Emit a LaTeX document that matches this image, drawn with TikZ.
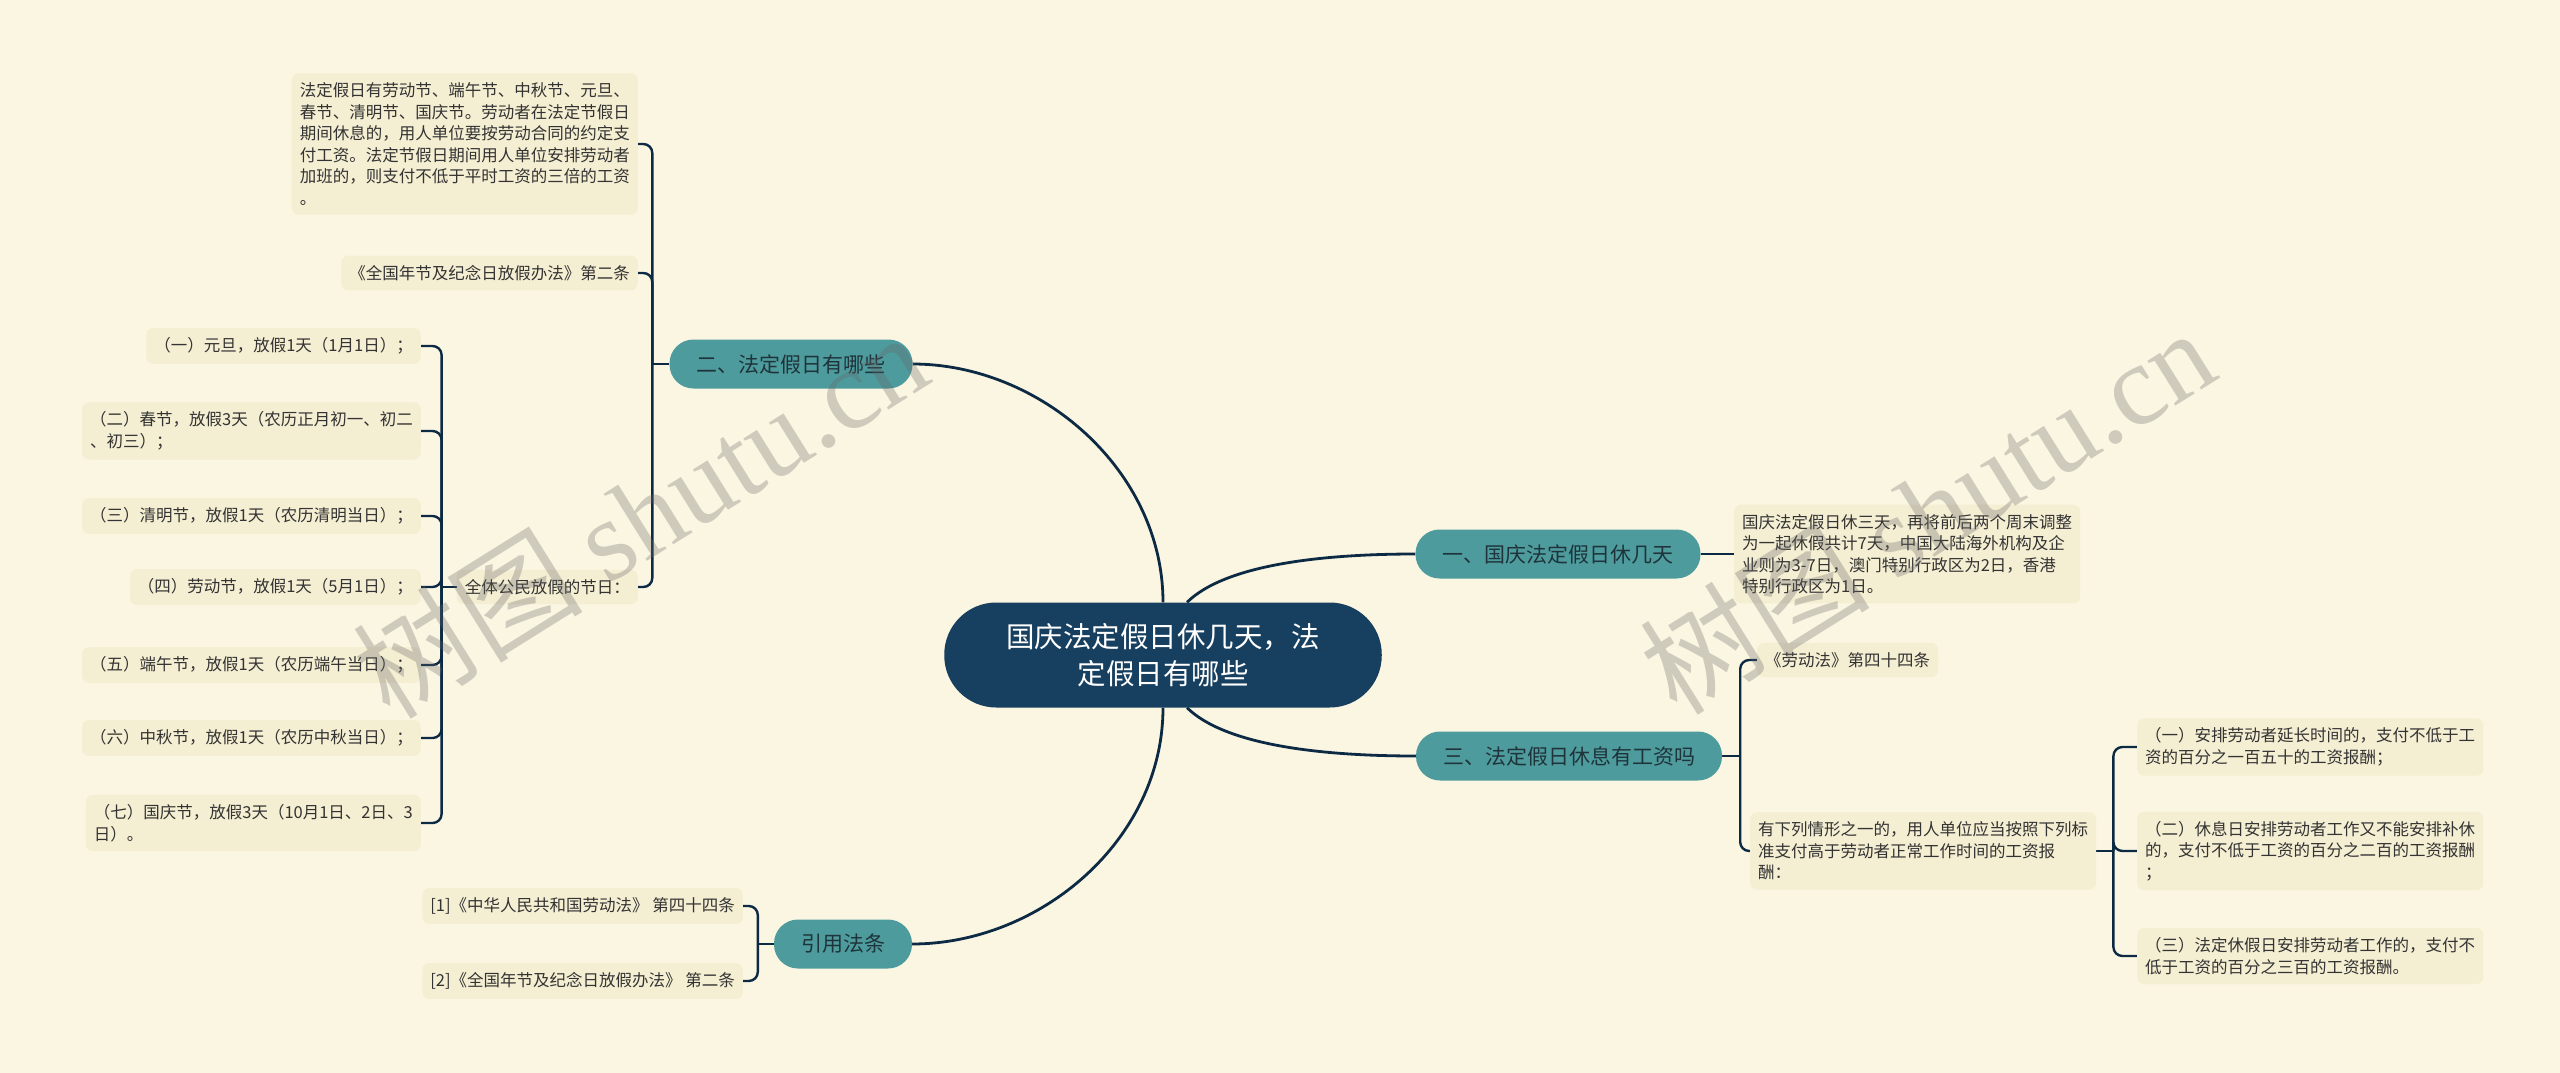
\documentclass[tikz,border=0pt]{standalone}
\usepackage{fontspec}
\setmainfont{Noto Sans CJK SC}
\newfontfamily\wmlatin{Liberation Serif}
\definecolor{bgc}{HTML}{FBF6E2}
\definecolor{leaff}{HTML}{F4EED2}
\definecolor{tealc}{HTML}{4E9B9E}
\definecolor{rootc}{HTML}{173F5F}
\definecolor{linec}{HTML}{0D2A45}
\definecolor{txtc}{HTML}{333333}
\definecolor{pilltxt}{HTML}{1E343A}
\pgfdeclarelayer{bglayer}
\pgfdeclarelayer{linelayer}
\pgfsetlayers{bglayer,linelayer,main}
\tikzset{
  leaf/.style={fill=leaff, rounded corners=7pt, inner xsep=8pt, inner ysep=9.5pt, align=left, text=txtc, font=\fontsize{16.5}{21.5}\selectfont},
  pill/.style={fill=tealc, rounded corners=24pt, minimum height=49pt, inner xsep=27pt, inner ysep=0pt, text=pilltxt, font=\fontsize{21}{25}\selectfont},
  rootbox/.style={fill=rootc, rounded corners=52pt, minimum height=105pt, inner xsep=62pt, text=white, align=center, font=\fontsize{28.5}{37}\selectfont},
  conn/.style={draw=linec, line width=2.4pt, rounded corners=9pt},
  mainconn/.style={draw=linec, line width=2.8pt},
  wm/.style={text=black!60, opacity=0.3, rotate=32, font=\fontsize{115}{120}\selectfont}
}
\begin{document}
\begin{tikzpicture}[x=1pt,y=-1pt]
\useasboundingbox (0,0) rectangle (2560,1073);
\begin{pgfonlayer}{bglayer}
\fill[bgc] (0,0) rectangle (2560,1073);
\end{pgfonlayer}

% root
\node[rootbox] (root) at (1163,655) {国庆法定假日休几天，法\\定假日有哪些};

% branches
\node[pill] (b2) at (791,364) {二、法定假日有哪些};
\node[pill] (b1) at (1558,554) {一、国庆法定假日休几天};
\node[pill] (b3) at (1569,756) {三、法定假日休息有工资吗};
\node[pill] (b4) at (843,944) {引用法条};

% children of b2
\node[leaf, anchor=east] (n1) at (638,144) {法定假日有劳动节、端午节、中秋节、元旦、\\春节、清明节、国庆节。劳动者在法定节假日\\期间休息的，用人单位要按劳动合同的约定支\\付工资。法定节假日期间用人单位安排劳动者\\加班的，则支付不低于平时工资的三倍的工资\\。};
\node[leaf, anchor=east] (n2) at (638,273) {《全国年节及纪念日放假办法》第二条};
\node[leaf, anchor=east] (n3) at (638,587) {全体公民放假的节日：};

% children of n3
\node[leaf, anchor=east] (h1) at (421,346) {（一）元旦，放假1天（1月1日）；};
\node[leaf, anchor=east] (h2) at (421,431) {（二）春节，放假3天（农历正月初一、初二\\、初三）；};
\node[leaf, anchor=east] (h3) at (421,516) {（三）清明节，放假1天（农历清明当日）；};
\node[leaf, anchor=east] (h4) at (421,587) {（四）劳动节，放假1天（5月1日）；};
\node[leaf, anchor=east] (h5) at (421,665) {（五）端午节，放假1天（农历端午当日）；};
\node[leaf, anchor=east] (h6) at (421,738) {（六）中秋节，放假1天（农历中秋当日）；};
\node[leaf, anchor=east] (h7) at (421,823) {（七）国庆节，放假3天（10月1日、2日、3\\日）。};

% children of b4
\node[leaf, anchor=east] (c1) at (743,906) {[1]《中华人民共和国劳动法》 第四十四条};
\node[leaf, anchor=east] (c2) at (743,981) {[2]《全国年节及纪念日放假办法》 第二条};

% child of b1
\node[leaf, anchor=west] (r1) at (1734,554) {国庆法定假日休三天，再将前后两个周末调整\\为一起休假共计7天，中国大陆海外机构及企\\业则为3-7日，澳门特别行政区为2日，香港\\特别行政区为1日。};

% children of b3
\node[leaf, anchor=west] (r2) at (1757,660) {《劳动法》第四十四条};
\node[leaf, anchor=west] (r3) at (1750,851) {有下列情形之一的，用人单位应当按照下列标\\准支付高于劳动者正常工作时间的工资报\\酬：};

% children of r3
\node[leaf, anchor=west] (q1) at (2137,747) {（一）安排劳动者延长时间的，支付不低于工\\资的百分之一百五十的工资报酬；};
\node[leaf, anchor=west] (q2) at (2137,851) {（二）休息日安排劳动者工作又不能安排补休\\的，支付不低于工资的百分之二百的工资报酬\\；};
\node[leaf, anchor=west] (q3) at (2137,956) {（三）法定休假日安排劳动者工作的，支付不\\低于工资的百分之三百的工资报酬。};

\begin{pgfonlayer}{linelayer}
% root connectors
\draw[mainconn] (root.north) .. controls (1163,470) and (1040,364) .. (b2.east);
\draw[mainconn] (root.south) .. controls (1163,840) and (1040,944) .. (b4.east);
\draw[mainconn] ([xshift=24pt]root.north) .. controls (1225,565) and (1320,554) .. (b1.west);
\draw[mainconn] ([xshift=24pt]root.south) .. controls (1225,745) and (1320,756) .. (b3.west);

% b2 group
\draw[conn] (b2.west) -- ++(-17,0) coordinate (s2);
\draw[conn] (s2) |- (n1.east);
\draw[conn] (s2) |- (n2.east);
\draw[conn] (s2) |- (n3.east);

% n3 group
\draw[conn] (n3.west) -- ++(-15,0) coordinate (s3);
\foreach \k in {h1,h2,h3,h4,h5,h6,h7} { \draw[conn] (s3) |- (\k.east); }

% b4 group
\draw[conn] (b4.west) -- ++(-16,0) coordinate (s4);
\draw[conn] (s4) |- (c1.east);
\draw[conn] (s4) |- (c2.east);

% b1
\draw[conn] (b1.east) -- (r1.west);

% b3 group
\draw[conn] (b3.east) -- ++(18,0) coordinate (s5);
\draw[conn] (s5) |- (r2.west);
\draw[conn] (s5) |- (r3.west);

% r3 group
\draw[conn] (r3.east) -- ++(17,0) coordinate (s6);
\draw[conn] (s6) |- (q1.west);
\draw[conn] (s6) |- (q2.west);
\draw[conn] (s6) |- (q3.west);
\end{pgfonlayer}

% watermark
\node[wm] (wm1) at (640,514) {树图 {\wmlatin shutu.cn}};
\node[wm] (wm2) at (1927,510) {树图 {\wmlatin shutu.cn}};
\end{tikzpicture}
\end{document}
